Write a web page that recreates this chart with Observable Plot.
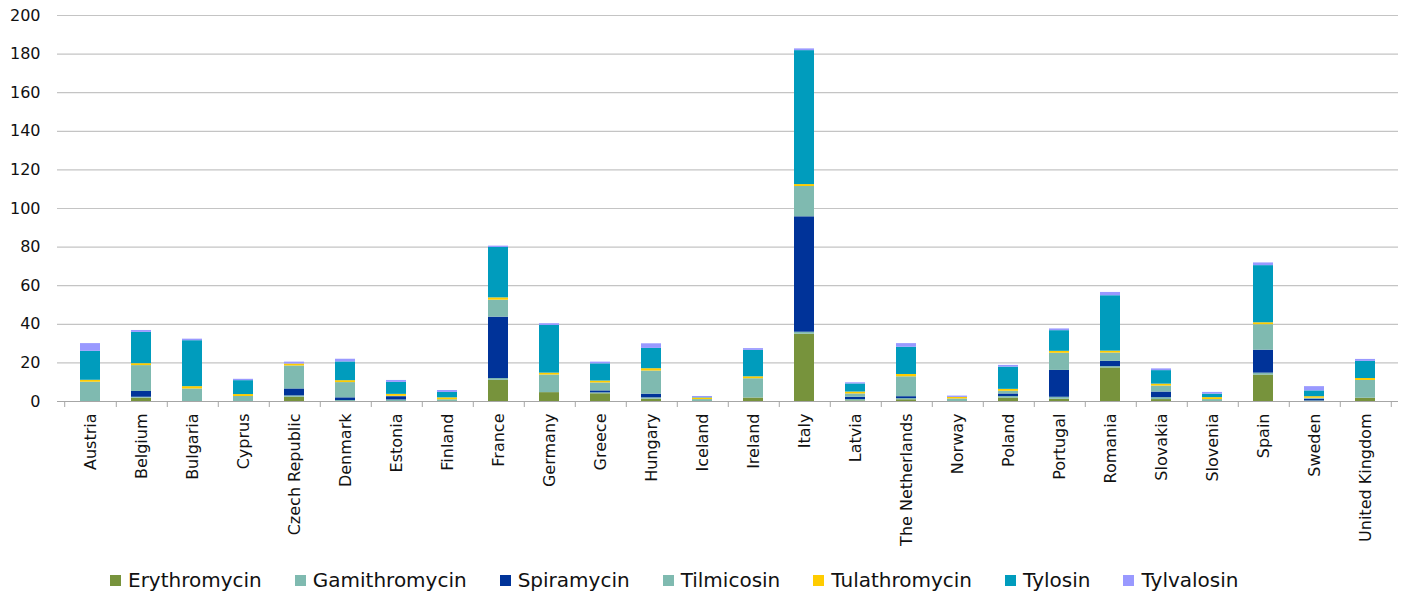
<!DOCTYPE html>
<html>
<head>
<meta charset="utf-8">
<script src="https://cdn.jsdelivr.net/npm/d3@7"></script>
<script src="https://cdn.jsdelivr.net/npm/@observablehq/plot@0.6"></script>
<style>
  body { margin: 0; background: #fff; font-family: "DejaVu Sans", sans-serif; }
  #legend { display: flex; align-items: center; gap: 33px; padding: 14px 0 0 110px; height: 28px; box-sizing: content-box; }
  #legend .item { display: flex; align-items: center; font-size: 20px; color: #111; white-space: nowrap; }
  #legend .sw { width: 11px; height: 11px; margin-right: 7px; display: inline-block; }
</style>
</head>
<body>
<div id="chart"></div>
<div id="legend"></div>
<script>
// Countries along the x axis
const countries = ["Austria", "Belgium", "Bulgaria", "Cyprus", "Czech Republic", "Denmark", "Estonia",
  "Finland", "France", "Germany", "Greece", "Hungary", "Iceland", "Ireland", "Italy", "Latvia",
  "The Netherlands", "Norway", "Poland", "Portugal", "Romania", "Slovakia", "Slovenia", "Spain",
  "Sweden", "United Kingdom"];

// Macrolide substances, in stacking order (bottom to top)
const substances = ["Erythromycin", "Gamithromycin", "Spiramycin", "Tilmicosin", "Tulathromycin", "Tylosin", "Tylvalosin"];
const substanceColors = ["#77933c", "#7fbab0", "#003399", "#7fbab0", "#ffcc00", "#009cbd", "#9999ff"];

// Values per country, one array per substance (same order as countries)
const erythromycin  = [0, 1.7, 0, 0, 2.2, 0, 0, 0, 11, 4.6, 4, 1.2, 0, 1.8, 34.9, 0.3, 0.9, 0, 1.8, 1.2, 17.4, 1, 0, 13.7, 0, 1.7];
const gamithromycin = [0, 0.5, 0, 0, 0.7, 0.5, 0.8, 0, 0.9, 0, 0.5, 0.7, 0, 0, 1, 0.7, 0.6, 0, 0.8, 1, 0.7, 1, 0, 1, 0.3, 0];
const spiramycin    = [0, 3, 0, 0, 3.6, 1.4, 1.7, 0, 31.8, 0, 1, 1.9, 0, 0, 59.8, 1.2, 1, 0, 1.3, 13.9, 2.7, 2.9, 0, 11.9, 0.9, 0];
const tilmicosin    = [10, 13.4, 6.5, 2.6, 11.9, 7.9, 0.2, 0.9, 8.8, 9.1, 4.1, 12, 1, 10, 15.7, 1.7, 10.3, 1.3, 1.4, 8.9, 4.3, 3.1, 1, 13.2, 0.5, 9.2];
const tulathromycin = [1, 1, 1.2, 1, 1, 1, 1, 1, 1.2, 1, 1, 1.2, 0.8, 1, 1, 1, 1.2, 0.8, 1, 1, 1, 1, 1, 1, 0.8, 1];
const tylosin       = [15, 16.2, 23.8, 7.2, 0, 9.7, 6.2, 2.8, 26.1, 24.7, 8.9, 10.5, 0.2, 13.7, 69.4, 4.2, 14.1, 0, 11.5, 10.7, 28.7, 7, 1.8, 29.6, 3, 8.9];
const tylvalosin    = [4, 1, 0.8, 0.7, 1, 1.4, 1, 1, 0.7, 0.9, 0.9, 2.4, 0.6, 0.9, 0.9, 0.6, 1.9, 0.7, 0.9, 0.9, 1.7, 0.9, 0.9, 1.4, 2.2, 1];

const yTicks = d3.range(0, 201, 20);

// Long table for the stacked bars
const series = [erythromycin, gamithromycin, spiramycin, tilmicosin, tulathromycin, tylosin, tylvalosin];
const rows = substances.flatMap((s, k) =>
  countries.map((c, i) => ({country: c, substance: s, value: series[k][i]})));

const width = 1407, height = 552;
const marginLeft = 57, marginRight = 9, marginTop = 15, marginBottom = 151;
const step = (width - marginLeft - marginRight) / countries.length;

const chart = Plot.plot({
  width, height, marginLeft, marginRight, marginTop, marginBottom,
  style: {fontFamily: "DejaVu Sans, sans-serif", fontSize: "16px", color: "#111", background: "#fff"},
  x: {domain: countries, paddingInner: 0.6, paddingOuter: 0.3, label: null},
  y: {domain: [0, 200], label: null},
  color: {domain: substances, range: substanceColors},
  marks: [
    Plot.gridY(yTicks, {stroke: "#c4c4c4", strokeOpacity: 1, strokeWidth: 1.2}),
    Plot.barY(rows, {x: "country", y: "value", fill: "substance", order: substances}),
    Plot.ruleY([0], {stroke: "#a6a6a6", strokeWidth: 1.2}),
    // tick marks on the category boundaries
    Plot.axisX({tickSize: 6, tickFormat: () => "", dx: step / 2, stroke: "#a6a6a6", label: null}),
    Plot.axisX([countries[0]], {tickSize: 6, tickFormat: () => "", dx: -step / 2, stroke: "#a6a6a6", label: null}),
    Plot.axisX({tickSize: 0, tickPadding: 12, tickRotate: -90, fontSize: 16, fill: "#111", label: null}),
    Plot.axisY({ticks: yTicks, tickSize: 0, tickPadding: 17, fontSize: 16, fill: "#111", label: null})
  ]
});
document.getElementById("chart").appendChild(chart);

// Legend
const legend = document.getElementById("legend");
substances.forEach((s, k) => {
  const item = document.createElement("span");
  item.className = "item";
  const sw = document.createElement("span");
  sw.className = "sw";
  sw.style.background = substanceColors[k];
  item.appendChild(sw);
  item.appendChild(document.createTextNode(s));
  legend.appendChild(item);
});
</script>
</body>
</html>
